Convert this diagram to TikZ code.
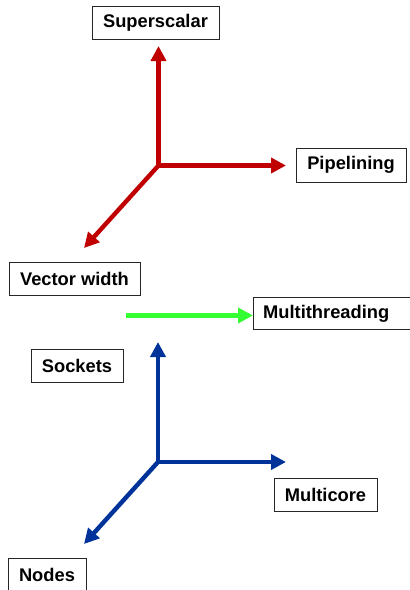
\documentclass[tikz,border=0pt]{standalone}
\usepackage{fontspec}
\setmainfont{Liberation Sans}
\usetikzlibrary{arrows.meta}
\definecolor{axisred}{HTML}{C00000}
\definecolor{axisblue}{HTML}{003399}
\definecolor{axisgreen}{HTML}{33FF33}
\tikzset{
  label box/.style={draw=black!85, line width=0.8pt, fill=white, inner sep=0pt,
    font=\fontsize{18.3}{20}\selectfont\bfseries},
  axis/.style={line width=4.4pt, -{Triangle[length=15pt,width=15pt]}},
}
\begin{document}
\begin{tikzpicture}[x=1pt,y=-1pt]
  \useasboundingbox (0,0) rectangle (410,590);
  \clip (0,0) rectangle (410,590);

  % labels of the upper (red) axes
  \node[label box, minimum width=127pt, minimum height=33pt] (sup) at (155.5,22.5) {Superscalar};
  \node[label box, minimum width=110pt, minimum height=34pt] (pipe) at (351,165) {Pipelining};
  \node[label box, minimum width=131pt, minimum height=33pt] (vec) at (74.5,278.5) {Vector width};

  % multithreading box runs past the right edge
  \draw[draw=black!85, line width=0.8pt] (253,297) rectangle (414,329);
  \coordinate (mtw) at (253,313);
  \node[font=\fontsize{18.3}{20}\selectfont\bfseries, anchor=west, inner sep=0pt] (mt) at (263,314) {Multithreading};

  % labels of the lower (blue) axes
  \node[label box, minimum width=92pt, minimum height=33pt] (sock) at (77,365.5) {Sockets};
  \node[label box, minimum width=103pt, minimum height=33pt] (core) at (325.5,494.5) {Multicore};
  \node[label box, minimum width=78pt, minimum height=33pt] (nodes) at (47,574.5) {Nodes};

  % red axes
  \coordinate (ro) at (158.5,165.5);
  \coordinate (rup) at (158.5,46);
  \coordinate (rright) at (286,165.5);
  \coordinate (rdiag) at (84,248);
  \draw[axis, axisred] (ro) -- (rup);
  \draw[axis, axisred] (ro) -- (rright);
  \draw[axis, axisred] (ro) -- (rdiag);

  % green axis
  \coordinate (gstart) at (126,315.5);
  \draw[axis, axisgreen] (gstart) -- (mtw |- gstart);

  % blue axes
  \coordinate (bo) at (158,462);
  \coordinate (bup) at (158,342);
  \coordinate (bright) at (286,462);
  \coordinate (bdiag) at (84,544);
  \draw[axis, axisblue] (bo) -- (bup);
  \draw[axis, axisblue] (bo) -- (bright);
  \draw[axis, axisblue] (bo) -- (bdiag);
\end{tikzpicture}
\end{document}
